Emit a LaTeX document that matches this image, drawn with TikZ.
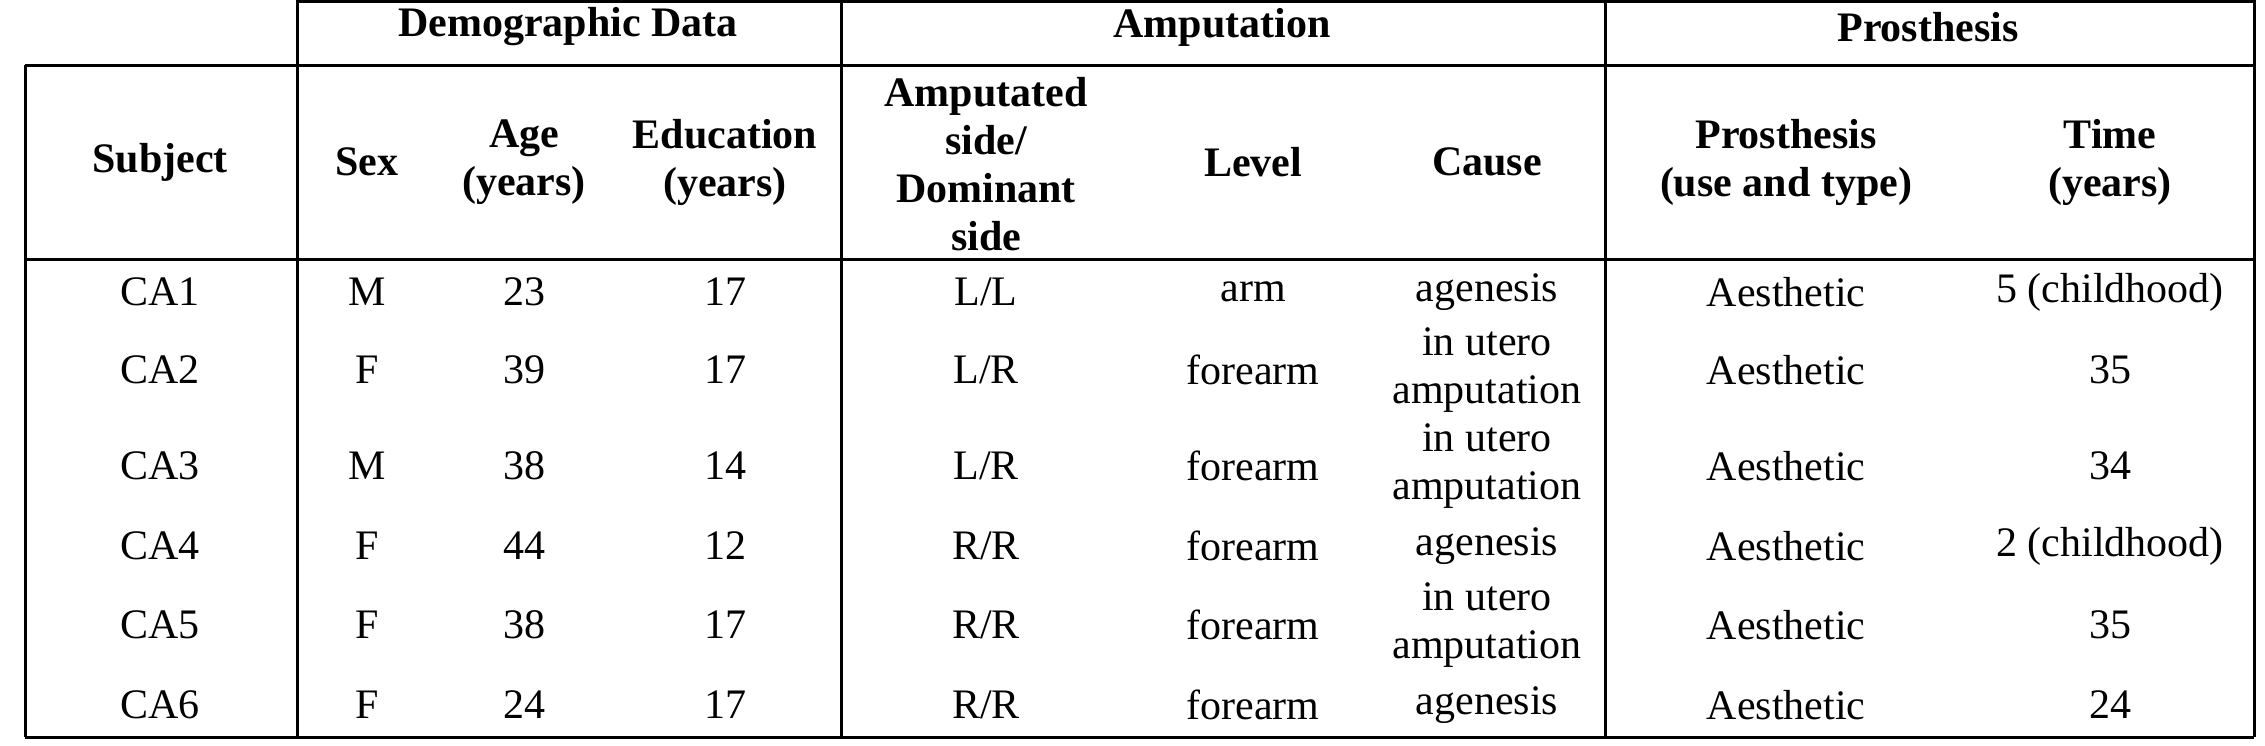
\documentclass[tikz,border=0pt]{standalone}
\usepackage{fontspec}
\setmainfont{Liberation Serif}
\begin{document}
\begin{tikzpicture}[x=1pt,y=-1pt,
  cell/.style={inner sep=0pt,align=center,font=\fontsize{42}{48}\selectfont},
  hd/.style={cell,font=\fontsize{42}{48}\selectfont\bfseries},
  rule/.style={line width=3pt}]
\useasboundingbox (0,0) rectangle (2265,745);
\draw[rule] (297,1.5) -- (2254,1.5);
\draw[rule] (25,65) -- (2254,65);
\draw[rule] (25,259) -- (2254,259);
\draw[rule] (25,737) -- (2254,737);
\draw[rule] (25,65) -- (25,737);
\draw[rule] (2254,0) -- (2254,737);
\foreach \x in {297,841,1605} \draw[rule] (\x,0) -- (\x,737);
\node[hd] (g1) at (568,27) {Demographic Data};
\node[hd] (g2) at (1222,27) {Amputation};
\node[hd] (g3) at (1928,27) {Prosthesis};
\node[hd] (h1) at (160,162) {Subject};
\node[hd] (h2) at (367,162) {Sex};
\node[hd] (h3) at (524,162) {Age\\(years)};
\node[hd] (h4) at (725,162) {Education\\(years)};
\node[hd] (h5) at (986,164) {Amputated\\side/\\Dominant\\side};
\node[hd] (h6) at (1253,162) {Level};
\node[hd] (h7) at (1487,162) {Cause};
\node[hd] (h8) at (1786,162) {Prosthesis\\(use and type)};
\node[hd] (h9) at (2110,162) {Time\\(years)};
\foreach \y/\s/\g/\a/\e/\d/\l/\c/\t [count=\i] in {
 292/CA1/M/23/17/L\slash L/arm/agenesis/5 (childhood),
 370/CA2/F/39/17/L\slash R/forearm/{in utero\\amputation}/35,
 466/CA3/M/38/14/L\slash R/forearm/{in utero\\amputation}/34,
 546/CA4/F/44/12/R\slash R/forearm/agenesis/2 (childhood),
 625/CA5/F/38/17/R\slash R/forearm/{in utero\\amputation}/35,
 705/CA6/F/24/17/R\slash R/forearm/agenesis/24}{
  \node[cell] (s\i) at (160,\y) {\s};
  \node[cell] (x\i) at (367,\y) {\g};
  \node[cell] (a\i) at (524,\y) {\a};
  \node[cell] (e\i) at (725,\y) {\e};
  \node[cell] (d\i) at (986,\y) {\d};
  \node[cell] (l\i) at (1253,\y) {\l};
  \node[cell] (c\i) at (1487,\y) {\c};
  \node[cell] (p\i) at (1786,\y) {Aesthetic};
  \node[cell] (t\i) at (2110,\y) {\t};
}
\end{tikzpicture}
\end{document}
